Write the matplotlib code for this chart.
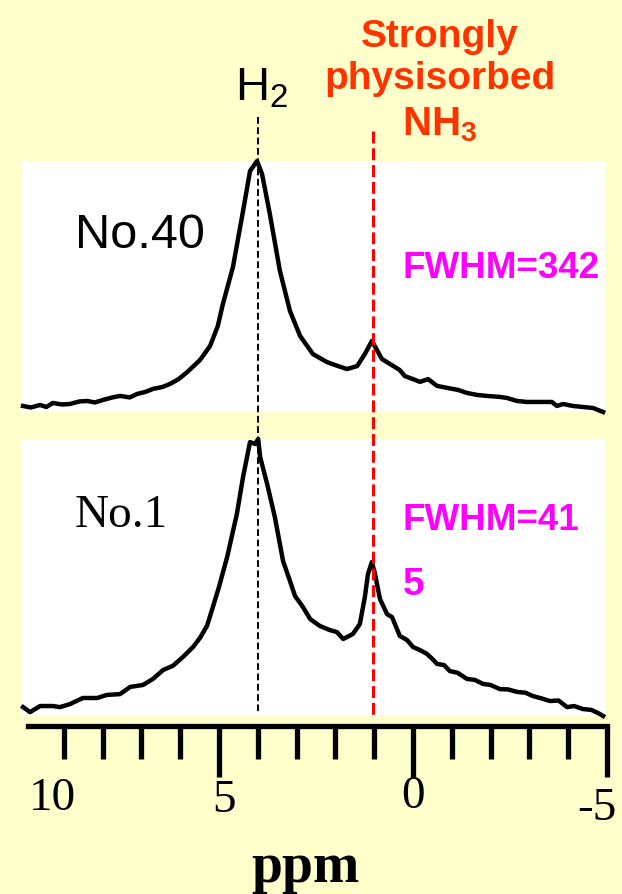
import matplotlib
matplotlib.use("Agg")
import matplotlib.pyplot as plt

# ---------------------------------------------
# data
# chemical shift (ppm), intensity (% of H2 peak)
# ---------------------------------------------

no40_ppm = [10.05, 9.85, 9.61, 9.45, 9.28, 9.05, 8.84, 8.60, 8.40, 8.20,
            7.99, 7.75, 7.55, 7.30, 7.11, 6.90, 6.70, 6.45, 6.26, 6.05,
            5.82, 5.49, 5.23, 5.03, 4.90, 4.64, 4.38, 4.20, 4.02, 3.89,
            3.69, 3.43, 3.17, 2.91, 2.58, 2.22, 1.95, 1.70, 1.44, 1.24, 1.06,
            0.80, 0.59, 0.34, 0.21, 0.0, -0.18, -0.39, -0.62, -0.88, -1.16,
            -1.39, -1.65, -1.91, -2.24, -2.42, -2.68, -2.94, -3.27, -3.58, -3.71,
            -3.87, -4.12, -4.38, -4.64, -4.90]
no40_int = [2.4, 1.8, 2.8, 2.0, 3.6, 3.0, 3.2, 4.2, 4.4, 3.8,
            4.8, 5.8, 6.4, 5.8, 7.2, 8.0, 9.2, 10.0, 11.2, 13.0,
            15.9, 20.7, 26.3, 34.3, 43.0, 57.8, 80.1, 96.0, 100.0, 94.8,
            78.9, 56.2, 40.2, 30.3, 23.1, 19.9, 18.4, 17.1, 18.3, 23.1, 28.3,
            21.1, 19.1, 16.7, 14.3, 13.1, 12.0, 13.1, 10.4, 9.6, 8.8,
            7.6, 6.8, 6.4, 6.0, 5.6, 4.4, 4.0, 4.0, 4.0, 2.4,
            3.2, 2.4, 2.0, 1.6, 0.0]

no1_ppm = [10.05, 9.87, 9.61, 9.28, 9.10, 8.84, 8.51, 8.14, 7.89, 7.55,
           7.29, 6.96, 6.70, 6.44, 6.19, 5.93, 5.67, 5.49, 5.31, 5.15,
           5.00, 4.79, 4.54, 4.38, 4.20, 4.07, 3.99, 3.94, 3.76, 3.56,
           3.35, 3.17, 3.04, 2.84, 2.65, 2.40, 2.14, 1.96, 1.80, 1.55,
           1.37, 1.24, 1.16, 1.06, 0.98, 0.85, 0.67, 0.54, 0.34, 0.15, 0.00,
           -0.18, -0.36, -0.50, -0.62, -0.80, -0.95, -1.15, -1.39, -1.60, -1.80,
           -2.00, -2.24, -2.45, -2.68, -2.90, -3.09, -3.30, -3.53, -3.75, -3.97,
           -4.15, -4.38, -4.60, -4.82, -4.90]
no1_int = [3.2, 1.4, 3.6, 3.6, 3.2, 4.3, 6.5, 6.5, 7.6, 7.9,
           10.5, 11.2, 13.4, 16.6, 18.1, 21.3, 24.9, 28.2, 32.5, 39.7,
           46.6, 57.4, 72.9, 86.3, 98.9, 98.2, 100.0, 93.5, 83.8, 71.8,
           56.0, 48.7, 43.3, 39.4, 35.0, 32.5, 31.0, 30.3, 27.8, 29.6,
           33.2, 43.0, 51.3, 55.6, 51.3, 42.2, 36.8, 35.7, 28.9, 27.4, 24.9,
           23.8, 22.4, 20.6, 18.8, 18.4, 16.2, 15.6, 13.4, 13.0, 11.6,
           11.2, 9.7, 9.6, 8.7, 8.4, 7.2, 6.4, 5.4, 5.6, 3.2,
           3.6, 2.5, 2.2, 0.7, 0.0]

h2_shift = 4.0
nh3_shift = 1.03

minor_ticks = list(range(9, -6, -1))
major_ticks = [5, 0, -5]
tick_labels = ["10", "5", "0", "-5"]

# ---------------------------------------------
# layout (pixel based, figure is 622 x 895)
# ---------------------------------------------

W, H = 622, 895
BG = "#FFFFCC"
plt.rcParams["mathtext.fontset"] = "custom"
plt.rcParams["mathtext.rm"] = "Liberation Sans"
plt.rcParams["mathtext.bf"] = "Liberation Sans:bold"

fig = plt.figure(figsize=(W / 100, H / 100), dpi=100, facecolor=BG)


def px2ppm(x):
    return (413 - x) / 38.8


def px_axes(x0, y0, x1, y1):
    return fig.add_axes([x0 / W, 1 - y1 / H, (x1 - x0) / W, (y1 - y0) / H])


def clean(ax):
    for s in ax.spines.values():
        s.set_visible(False)
    ax.set_xticks([])
    ax.set_yticks([])


# spectrum panels
ax40 = px_axes(22, 162, 605, 413)
ax1 = px_axes(22, 440, 605, 717)
for ax, ppm, inten in [(ax40, no40_ppm, no40_int), (ax1, no1_ppm, no1_int)]:
    ax.set_facecolor("white")
    ax.plot(ppm, inten, color="black", lw=3.2, clip_on=False, zorder=3,
            solid_joinstyle="round")
    ax.set_xlim(px2ppm(22), px2ppm(605))
    ax.set_ylim(0, 100)
    clean(ax)

# ppm scale
axs = px_axes(0, 720, W, 727)
axs.patch.set_visible(False)
axs.set_xlim(px2ppm(0), px2ppm(W))
axs.set_ylim(0, 1)
for s in ["top", "left", "right"]:
    axs.spines[s].set_visible(False)
axs.spines["bottom"].set_linewidth(3.8)
axs.spines["bottom"].set_bounds(-5, px2ppm(28))
axs.set_yticks([])
axs.set_xticks(major_ticks)
axs.set_xticks(minor_ticks, minor=True)
axs.tick_params(axis="x", which="major", length=37, width=3.8, direction="out",
                labelbottom=False)
axs.tick_params(axis="x", which="minor", length=24, width=3.8, direction="out")

# overlay: x in ppm, y in pixels
ov = fig.add_axes([0, 0, 1, 1])
ov.patch.set_visible(False)
ov.set_xlim(px2ppm(0), px2ppm(W))
ov.set_ylim(H, 0)
ov.axis("off")

ov.vlines(h2_shift, 118, 712, color="black", lw=1.4, linestyles=(0, (3.5, 1.8)), zorder=2)
ov.vlines(nh3_shift, 132, 719, color="#FF0000", lw=2.2, linestyles=(0, (3.9, 1.6)), zorder=2)

ov.text(px2ppm(262), 100, r"H$_2$", fontsize=34, family="Liberation Sans",
        ha="center", va="baseline")
red = "#FF3300"
ov.text(px2ppm(440), 47, "Strongly", fontsize=28, fontweight="bold",
        family="Liberation Sans", color=red, ha="center", va="baseline")
ov.text(px2ppm(440), 89, "physisorbed", fontsize=28, fontweight="bold",
        family="Liberation Sans", color=red, ha="center", va="baseline")
ov.text(px2ppm(440), 135, r"$\mathbf{NH_3}$", fontsize=29,
        color=red, ha="center", va="baseline")

mag = "#FF00FF"
ov.text(px2ppm(403), 278, "FWHM=342", fontsize=26.5, fontweight="bold",
        family="Liberation Sans", color=mag, ha="left", va="baseline")
ov.text(px2ppm(403), 530, "FWHM=41", fontsize=26.5, fontweight="bold",
        family="Liberation Sans", color=mag, ha="left", va="baseline")
ov.text(px2ppm(403), 595, "5", fontsize=28, fontweight="bold",
        family="Liberation Sans", color=mag, ha="left", va="baseline")

ov.text(px2ppm(75), 248, "No.40", fontsize=35, family="Liberation Sans",
        ha="left", va="baseline")
ov.text(px2ppm(75), 527, "No.1", fontsize=34, family="Liberation Serif",
        ha="left", va="baseline")

label_x = [52, 224, 413, 597]
label_y = [799, 801, 797, 809]
for lab, xx, yy in zip(tick_labels, label_x, label_y):
    ov.text(px2ppm(xx), yy, lab, fontsize=34, family="Liberation Serif",
            ha="center", va="center")
ov.text(px2ppm(305), 882, "ppm", fontsize=40, fontweight="bold",
        family="Liberation Serif", ha="center", va="baseline")

fig.savefig("out.png", dpi=100, facecolor=BG)
